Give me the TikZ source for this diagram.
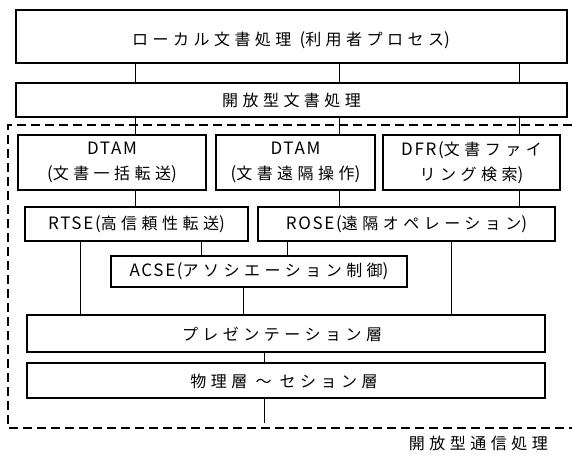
\documentclass[tikz,border=0pt]{standalone}
\usepackage{fontspec}
\setmainfont{Noto Sans CJK JP}[LetterSpace=28]
\newfontfamily\latfont{Noto Sans CJK JP}[LetterSpace=10]
\newcommand\lat[1]{{\latfont\fontsize{17}{25}\selectfont #1}}
\begin{document}
\begin{tikzpicture}[x=1pt,y=-1pt,
  box/.style={draw, line width=1.1pt, inner sep=0pt, align=center},
  conn/.style={line width=1pt},
  region/.style={line width=1.1pt, dash pattern=on 9pt off 5pt},
  txt/.style={inner sep=0pt, align=center},
  every node/.style={font=\fontsize{16}{25}\selectfont}]
\useasboundingbox (0,0) rectangle (572,456);
% boxes
\node[box, minimum width=551pt, minimum height=53pt] (top) at (291.5,36.5) {};
\node[txt] (topT) at (291,40) {ローカル文書処理 \lat{(}利用者プロセス\lat{)}};
\node[box, minimum width=551pt, minimum height=34pt] (open) at (291.5,100) {開放型文書処理};
\node[box, minimum width=188pt, minimum height=55pt] (dtam1) at (112,162.5) {\lat{DTAM}\\\lat{(}文書一括転送\lat{)}};
\node[box, minimum width=159pt, minimum height=55pt] (dtam2) at (295.5,162.5) {\lat{DTAM}\\\lat{(}文書遠隔操作\lat{)}};
\node[box, minimum width=177pt, minimum height=55pt] (dfr) at (471.5,162.5) {\lat{DFR(}文書ファイ\\リング検索\lat{)}};
\node[box, minimum width=223pt, minimum height=34pt] (rtse) at (136.5,224) {\lat{RTSE(}高信頼性転送\lat{)}};
\node[box, minimum width=297pt, minimum height=34pt] (rose) at (406.5,224) {\lat{ROSE(}遠隔オペレーション\lat{)}};
\node[box, minimum width=296pt, minimum height=31pt] (acse) at (259,271.5) {\lat{ACSE(}アソシエーション制御\lat{)}};
\node[box, minimum width=518pt, minimum height=37pt] (pres) at (286,333.5) {};
\node[txt] (presT) at (282,334) {プレゼンテーション層};
\node[box, minimum width=518pt, minimum height=35pt] (phys) at (286,380.5) {};
\node[txt] (physT) at (284,381) {物理層 ～ セション層};
\node[txt, anchor=east] (otp) at (548,443) {開放型通信処理};
% x positions of connectors
\coordinate (xa) at (135,0);
\coordinate (xb) at (339,0);
\coordinate (xc) at (519,0);
\coordinate (xd) at (201,0);
\coordinate (xe) at (287,0);
\coordinate (xf) at (80,0);
\coordinate (xg) at (451,0);
\coordinate (xh) at (243,0);
\coordinate (xi) at (264,0);
\coordinate (pend) at (264,423);
% connectors
\foreach \x in {xa,xb,xc} \draw[conn] (top.south -| \x) -- (open.north -| \x);
\draw[conn] (open.south -| xa) -- (dtam1.north -| xa);
\draw[conn] (open.south -| xb) -- (dtam2.north -| xb);
\draw[conn] (open.south -| xc) -- (dfr.north -| xc);
\draw[conn] (dtam1.south -| xa) -- (rtse.north -| xa);
\draw[conn] (dtam2.south -| xb) -- (rose.north -| xb);
\draw[conn] (dfr.south -| xc) -- (rose.north -| xc);
\draw[conn] (rtse.south -| xd) -- (acse.north -| xd);
\draw[conn] (rose.south -| xe) -- (acse.north -| xe);
\draw[conn] (rtse.south -| xf) -- (pres.north -| xf);
\draw[conn] (rose.south -| xg) -- (pres.north -| xg);
\draw[conn] (acse.south -| xh) -- (pres.north -| xh);
\draw[conn] (pres.south -| xi) -- (phys.north -| xi);
\draw[conn] (phys.south -| pend) -- (pend);
% dashed region
\coordinate (dtr) at (572,125);
\coordinate (dtl) at (8,125);
\coordinate (dbl) at (8,428);
\coordinate (dbr) at (572,428);
\draw[region] (dtr) -- (dtl) -- (dbl) -- (dbr);
\end{tikzpicture}
\end{document}
